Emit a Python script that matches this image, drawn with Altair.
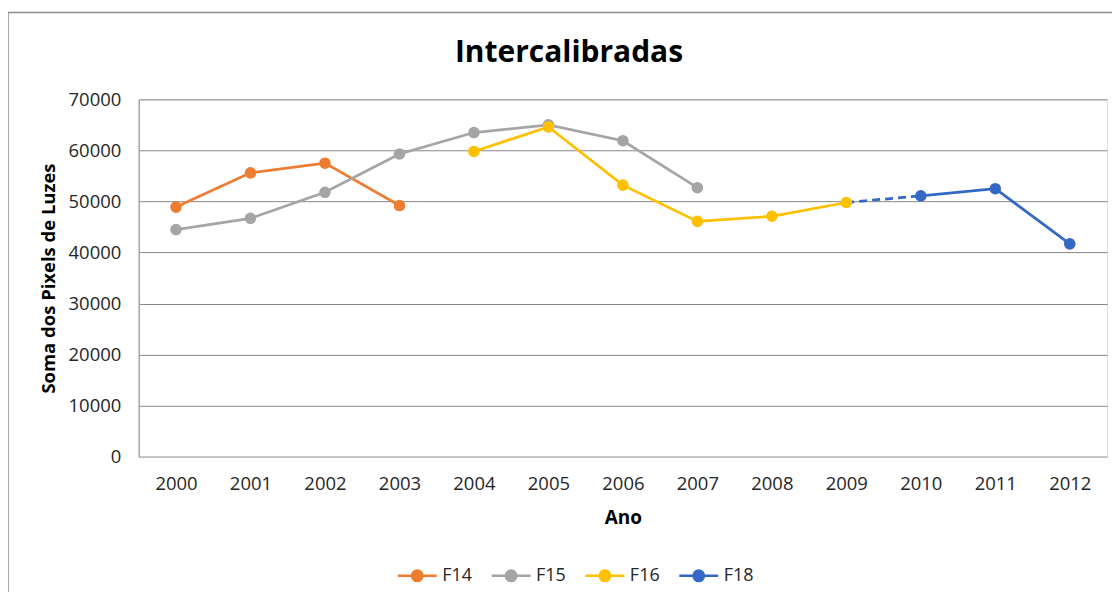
import altair as alt
import pandas as pd

years = list(range(2000, 2013))
series_names = ["F14", "F15", "F16", "F18"]
series_colors = ["#ED7D31", "#A5A5A5", "#FFC000", "#3369C4"]
chart_title = "Intercalibradas"

f14_years = [2000, 2001, 2002, 2003]
f14_vals = [48900, 55600, 57500, 49200]
f15_years = [2000, 2001, 2002, 2003, 2004, 2005, 2006, 2007]
f15_vals = [44500, 46700, 51800, 59300, 63500, 65000, 61900, 52700]
f16_years = [2004, 2005, 2006, 2007, 2008, 2009]
f16_vals = [59800, 64600, 53200, 46100, 47100, 49800]
f18_years = [2010, 2011, 2012]
f18_vals = [51100, 52500, 41700]
bridge_years = [2009, 2010]
bridge_vals = [49800, 51100]

rows = []
for name, ys, vs in [("F14", f14_years, f14_vals), ("F15", f15_years, f15_vals),
                     ("F16", f16_years, f16_vals), ("F18", f18_years, f18_vals)]:
    for y, v in zip(ys, vs):
        rows.append({"Ano": y, "Valor": v, "Série": name})
df = pd.DataFrame(rows)
bridge = pd.DataFrame({"Ano": bridge_years, "Valor": bridge_vals, "Série": ["F18", "F18"]})

FONT = "Open Sans"
color = alt.Color(
    "Série:N",
    scale=alt.Scale(domain=series_names, range=series_colors),
    legend=alt.Legend(
        title=None, orient="none", direction="horizontal",
        legendX=258, legendY=456,
        symbolType="M-1,0H1M0.27,0A0.27,0.27,0,1,1,-0.27,0A0.27,0.27,0,1,1,0.27,0Z",
        symbolSize=1520, symbolStrokeWidth=2.5,
        labelFont=FONT, labelFontSize=18, labelColor="#262626",
        columnPadding=14, symbolOffset=0, labelOffset=4,
    ),
)

x = alt.X("Ano:Q",
          scale=alt.Scale(domain=[1999.5, 2012.5], nice=False, zero=False),
          axis=alt.Axis(values=years, format="d", grid=False, ticks=False,
                        labelFont=FONT, labelFontSize=18.5, labelColor="#262626",
                        labelPadding=18, domainColor="#BFBFBF", domainWidth=1.5,
                        title="Ano", titleFont=FONT, titleFontSize=19,
                        titleFontWeight="bold", titleColor="#000000", titlePadding=15))
y = alt.Y("Valor:Q",
          scale=alt.Scale(domain=[0, 70000], nice=False),
          axis=alt.Axis(values=list(range(0, 70001, 10000)), format="d", ticks=False,
                        gridColor="#878787", gridWidth=1,
                        labelFont=FONT, labelFontSize=18.5, labelColor="#262626",
                        labelPadding=18, domainColor="#A6A6A6", domainWidth=1.5,
                        title="Soma dos Pixels de Luzes", titleFont=FONT,
                        titleFontSize=18.5, titleFontWeight="bold", titleColor="#000000",
                        titlePadding=10))

base = alt.Chart(df)
lines = base.mark_line(strokeWidth=2.75).encode(x=x, y=y, color=color, detail="Série:N")
points = base.mark_point(filled=True, size=135, opacity=1).encode(x=x, y=y, color=color)
dash = alt.Chart(bridge).mark_line(strokeWidth=2.75, strokeDash=[8, 5], color="#3369C4").encode(
    x=x, y=y)

one = pd.DataFrame({"a": [0]})
frame = alt.Chart(one).mark_rect(
    filled=False, stroke="#8C8C8C", strokeWidth=1.5).encode(
    x=alt.value(-131), x2=alt.value(1200), y=alt.value(-87), y2=alt.value(900))
title = alt.Chart(one).mark_text(
    font=FONT, fontSize=30, fontWeight="bold", color="#000000",
    align="center", baseline="alphabetic").encode(
    x=alt.value(431), y=alt.value(-37), text=alt.value(chart_title))

chart = alt.layer(frame, title, lines, dash, points).properties(
    width=970, height=358,
    autosize=alt.AutoSizeParams(type="none"),
    padding={"left": 131, "top": 91, "right": 5, "bottom": 135},
).configure_view(stroke=None).configure(background="white")

chart.save("out.html", embed_options={"renderer": "svg", "actions": False})
